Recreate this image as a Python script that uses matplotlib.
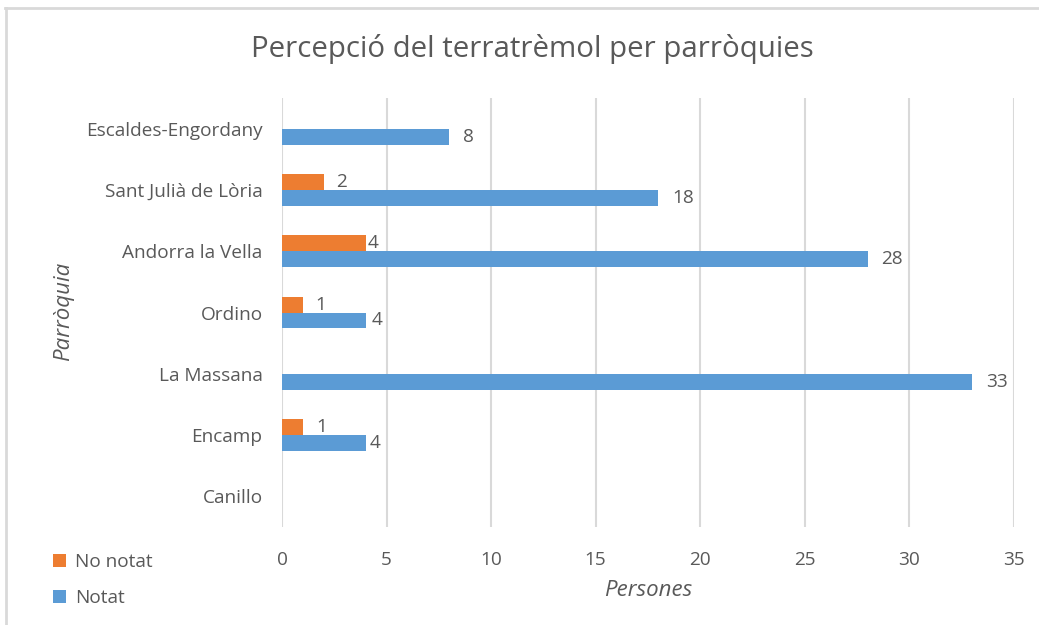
import matplotlib
matplotlib.use("Agg")
import matplotlib.pyplot as plt
from matplotlib.lines import Line2D
from matplotlib.patches import Patch
import numpy as np

# ---- data ----
categories = ["Canillo", "Encamp", "La Massana", "Ordino",
              "Andorra la Vella", "Sant Julià de Lòria", "Escaldes-Engordany"]
notat = [None, 4, 33, 4, 28, 18, 8]
no_notat = [None, 1, None, 1, 4, 2, None]
xticks = [0, 5, 10, 15, 20, 25, 30, 35]

title = "Percepció del terratrèmol per parròquies"
xlabel = "Persones"
ylabel = "Parròquia"

# ---- style ----
BLUE = "#5B9BD5"
ORANGE = "#ED7D31"
TXT = "#595959"
GRID = "#D9D9D9"
FONT = ["Open Sans", "DejaVu Sans"]
plt.rcParams["font.family"] = FONT
FS = 13.7

W, H, DPI = 1039, 625, 100
fig = plt.figure(figsize=(W / DPI, H / DPI), dpi=DPI)
fig.patch.set_facecolor("white")

# axes placement (pixels)
left, right, top, bottom = 282, 1014, 98, 527
ax = fig.add_axes([left / W, 1 - bottom / H, (right - left) / W, (bottom - top) / H])

h = 0.26
y = np.arange(len(categories))

def clean(vals):
    return [np.nan if v is None else v for v in vals]

nv = clean(notat)
nn = clean(no_notat)
ax.barh(y - h / 2, np.nan_to_num(nv), height=h, color=BLUE, zorder=3)
ax.barh(y + h / 2, np.nan_to_num(nn), height=h, color=ORANGE, zorder=3)

# label offsets in points (style only)
off_notat = [10, 3, 10, 4, 10, 10, 10]
off_nonotat = [10, 10, 10, 9, 1.5, 9, 10]
for i, v in enumerate(notat):
    if v is not None:
        ax.annotate(str(v), (v, y[i] - h / 2), xytext=(off_notat[i], 0),
                    textcoords="offset points", va="center", ha="left",
                    fontsize=FS, color=TXT)
for i, v in enumerate(no_notat):
    if v is not None:
        ax.annotate(str(v), (v, y[i] + h / 2), xytext=(off_nonotat[i], 0),
                    textcoords="offset points", va="center", ha="left",
                    fontsize=FS, color=TXT)

ax.set_xlim(0, 35)
ax.set_ylim(-0.5, len(categories) - 0.5)
ax.set_xticks(xticks)
ax.set_xticklabels([str(t) for t in xticks])
ax.set_yticks(y)
ax.set_yticklabels(categories)
ax.tick_params(axis="both", length=0, labelsize=FS, labelcolor=TXT)
ax.tick_params(axis="x", pad=17)
ax.tick_params(axis="y", pad=14)
ax.grid(axis="x", color=GRID, linewidth=1.5, zorder=0)
ax.set_axisbelow(True)
for s in ax.spines.values():
    s.set_visible(False)

fig.text(532 / W, 1 - 49 / H, title, ha="center", va="center",
         fontsize=21.2, color=TXT)
fig.text(648 / W, 1 - 590 / H, xlabel, ha="center", va="center",
         fontsize=16, color=TXT, style="italic")
fig.text(64 / W, 1 - 311 / H, ylabel, ha="center", va="center",
         fontsize=16, color=TXT, style="italic", rotation=90)

# legend
handles = [Patch(facecolor=ORANGE, edgecolor="none", label="No notat"),
           Patch(facecolor=BLUE, edgecolor="none", label="Notat")]
leg = fig.legend(handles=handles, loc="center left",
                 bbox_to_anchor=(36 / W, 1 - 580 / H), frameon=False,
                 fontsize=FS, handlelength=0.7, handleheight=0.7,
                 handletextpad=0.45, labelspacing=0.95)
for t in leg.get_texts():
    t.set_color(TXT)

# chart frame (top and left edges visible)
fig.add_artist(Line2D([5 / W, 1], [1 - 8 / H, 1 - 8 / H], color=GRID,
                      linewidth=2, transform=fig.transFigure))
fig.add_artist(Line2D([6 / W, 6 / W], [0, 1 - 8 / H], color=GRID,
                      linewidth=2, transform=fig.transFigure))

fig.savefig("out.png", dpi=DPI)
